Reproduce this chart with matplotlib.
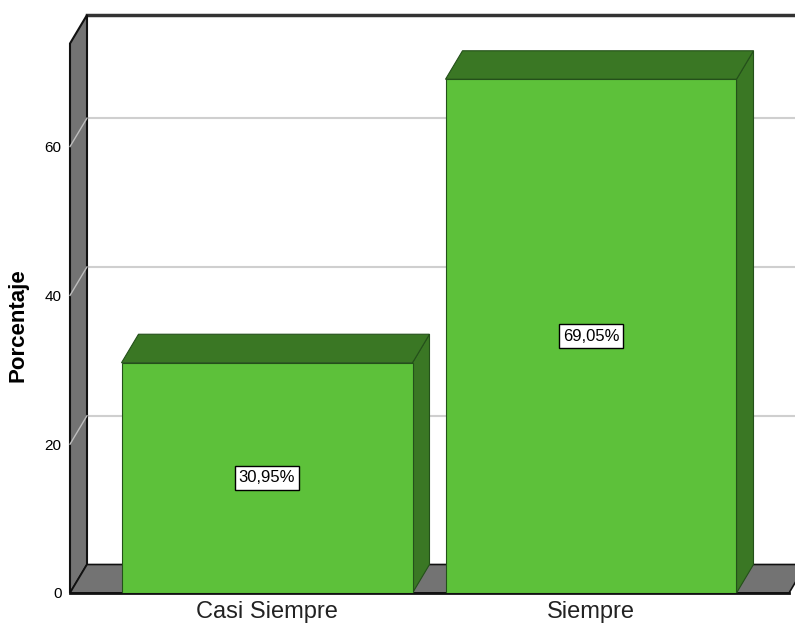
import matplotlib
matplotlib.use("Agg")
import matplotlib.pyplot as plt
from matplotlib import font_manager
from matplotlib.patches import Polygon

categorias = ["Casi Siempre", "Siempre"]
porcentajes = [30.95, 69.05]
etiquetas = ["30,95%", "69,05%"]
yticks = [0, 20, 40, 60]

# Schrift: schmale Variante falls vorhanden
try:
    font_manager.findfont(font_manager.FontProperties(family="Liberation Sans Narrow"),
                          fallback_to_default=False)
    FONT = "Liberation Sans Narrow"
except Exception:
    FONT = "Liberation Sans"

VERDE = "#5dc13a"
VERDE_OSC = "#3a7724"
BORDE_VERDE = "#24501a"
GRIS = "#737373"

W, H = 795, 634
fig = plt.figure(figsize=(W / 100, H / 100), dpi=100)
# Frontebene: x 70..789 px, y 593..15 px
ax = fig.add_axes([70 / W, (H - 593) / H, (789 - 70) / W, (593 - 15) / H])

px_y = 7.44           # Pixel pro Prozentpunkt
px_x = 324.0          # Pixel pro Kategorie
x0 = 267.0            # Mitte der ersten Kategorie in px
xmin, xmax = (70 - x0) / px_x, (789 - x0) / px_x
ymax = (593 - 15) / px_y
ax.set_xlim(xmin, xmax)
ax.set_ylim(0, ymax)

DX = 17 / px_x
DY = 28.5 / px_y
ancho = 291 / px_x
xs = list(range(len(categorias)))

# Rückwand: Gitterlinien
for v in yticks[1:]:
    ax.plot([xmin + DX, xmax + 2 * DX], [v + DY, v + DY], color="#cfcfcf",
            lw=1.5, zorder=1, clip_on=False)
# obere Kante der Rückwand
ax.plot([xmin + DX, xmax + 2 * DX], [ymax, ymax], color="#333333", lw=2.5,
        zorder=1, clip_on=False)

# linke Wand
ax.add_patch(Polygon([(xmin, 0), (xmin, ymax - DY), (xmin + DX, ymax), (xmin + DX, DY)],
                     closed=True, facecolor=GRIS, edgecolor="#111111", lw=1.5,
                     zorder=2, clip_on=False))
for v in yticks[1:]:
    ax.plot([xmin, xmin + DX], [v, v + DY], color="#bdbdbd", lw=1, zorder=2.5,
            clip_on=False)

# Boden
ax.add_patch(Polygon([(xmin, 0), (xmax, 0), (xmax + DX, DY), (xmin + DX, DY)],
                     closed=True, facecolor=GRIS, edgecolor="#111111", lw=1.2,
                     zorder=2, clip_on=False))
ax.plot([xmin, xmax], [0, 0], color="#111111", lw=2, zorder=2.6, clip_on=False)

# Balken
bars = ax.bar(xs, porcentajes, width=ancho, color=VERDE, edgecolor=BORDE_VERDE,
              lw=0.8, zorder=4)
for b, v in zip(bars, porcentajes):
    xl = b.get_x()
    xr = xl + b.get_width()
    ax.add_patch(Polygon([(xr, 0), (xr, v), (xr + DX, v + DY), (xr + DX, DY)],
                         closed=True, facecolor=VERDE_OSC, edgecolor=BORDE_VERDE,
                         lw=0.8, zorder=3))
    ax.add_patch(Polygon([(xl, v), (xr, v), (xr + DX, v + DY), (xl + DX, v + DY)],
                         closed=True, facecolor=VERDE_OSC, edgecolor=BORDE_VERDE,
                         lw=0.8, zorder=3, clip_on=False))

for x, v, t in zip(xs, porcentajes, etiquetas):
    ax.text(x, v / 2, t, ha="center", va="center", fontsize=12, family=FONT,
            zorder=6,
            bbox=dict(boxstyle="square,pad=0.25", facecolor="white",
                      edgecolor="black", lw=1))

ax.set_xticks(xs)
ax.set_xticklabels(categorias, fontsize=17, family=FONT, color="#222222")
ax.set_yticks(yticks)
ax.set_yticklabels([str(t) for t in yticks], fontsize=11, family=FONT)
ax.tick_params(axis="x", length=0, pad=6)
ax.tick_params(axis="y", length=0, pad=6)
for s in ax.spines.values():
    s.set_visible(False)
ax.patch.set_visible(False)

fig.text(18 / W, 1 - 325 / H, "Porcentaje", rotation=90, ha="center", va="center",
         fontsize=16, fontweight="bold", family="Liberation Sans")

fig.savefig("out.png", dpi=100)
